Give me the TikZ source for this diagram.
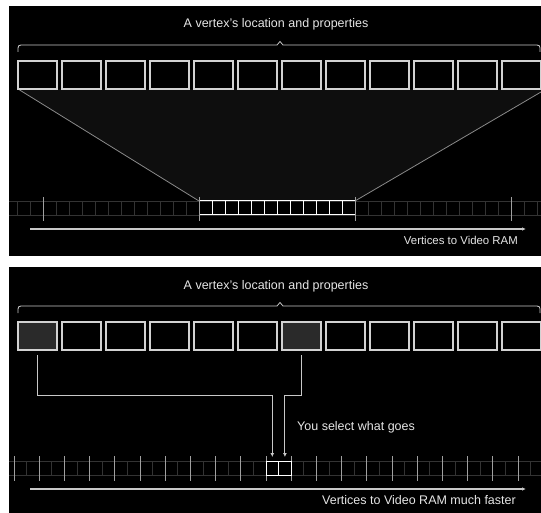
\documentclass[tikz,border=0pt]{standalone}
\usepackage{fontspec}
\setmainfont{Liberation Sans}
\usetikzlibrary{arrows.meta,calc}
\definecolor{trap}{HTML}{0E0E0E}
\definecolor{cellline}{HTML}{333333}
\definecolor{boxline}{HTML}{D2D2D2}
\definecolor{selfill}{HTML}{2A2A2A}
\definecolor{txt}{HTML}{E6E6E6}
\definecolor{tickc}{HTML}{A0A0A0}
\definecolor{edgec}{HTML}{8A8A8A}
\definecolor{axisc}{HTML}{C8C8C8}
\begin{document}
\begin{tikzpicture}[x=1pt,y=-1pt,
  vbox/.style={draw=boxline,line width=1.3pt,minimum width=39pt,minimum height=28pt,inner sep=0pt,outer sep=0pt,anchor=north west},
  selbox/.style={vbox,fill=selfill},
  cellst/.style={draw=cellline,line width=0.8pt},
  hl/.style={draw=white,line width=1pt},
  hlcell/.style={draw=white,line width=1pt,minimum width=12.6pt,minimum height=14pt,inner sep=0pt,outer sep=0pt,anchor=north west},
  tickst/.style={draw=tickc,line width=0.8pt},
  edgest/.style={draw=edgec,line width=0.8pt},
  bracest/.style={draw=axisc,line width=0.8pt},
  axis/.style={draw=axisc,line width=1.3pt,-{Latex[length=4pt,width=3.5pt]}},
  conn/.style={draw=axisc,line width=1pt,-{Latex[length=4pt,width=4pt]},shorten <=5pt,shorten >=4pt},
  lbl/.style={text=txt,font=\fontsize{12.5}{14}\selectfont,inner sep=0pt},
  lbls/.style={text=txt,font=\fontsize{11.4}{13}\selectfont,inner sep=0pt}
]
\useasboundingbox (0,0) rectangle (541,513);
\fill[white] (0,0) rectangle (541,513);

% ---------- top panel ----------
\begin{scope}
\clip (9,6) rectangle (541,256);
\fill[black] (9,6) rectangle (541,256);
\fill[trap] (18,89) -- (541,89) -- (541,92) -- (355,201) -- (199,201) -- cycle;
\draw[edgest] (18,89) -- (199,201);
\draw[edgest] (541,92) -- (355,201);
\node[lbl] (title1) at (276,24) {A vertex's location and properties};
\draw[bracest] (18,52) -- (18,48) .. controls (18,46) and (19,45) .. (21,45) -- (277,45) -- (280,41.5) -- (283,45) -- (537,45) .. controls (539,45) and (540,46) .. (540,48) -- (540,52);
\foreach \k in {1,...,12}
  \node[vbox] (t\k) at ({18+44*(\k-1)},61) {};
% strip
\draw[cellst] (9,201) -- (541,201);
\draw[cellst] (9,215) -- (541,215);
\foreach \i in {-15,...,27}
  \draw[cellst] ({199+13*\i},201) -- ++(0,14);
\draw[hl] (199,201) rectangle (355,215);
\foreach \i in {1,...,11}
  \draw[hl] ({199+13*\i},201) -- ++(0,14);
\foreach \x in {43,199,355,511}
  \draw[tickst] (\x,197) -- (\x,221);
\coordinate (a1s) at (30,229);
\coordinate (a1e) at (526,229);
\draw[axis] (a1s) -- (a1e);
\node[lbls,anchor=east] (v1) at (518,240) {Vertices to Video RAM};
\end{scope}

% ---------- bottom panel ----------
\begin{scope}
\clip (9,267) rectangle (541,513);
\fill[black] (9,267) rectangle (541,513);
\node[lbl] (title2) at (276,286) {A vertex's location and properties};
\draw[bracest] (18,313) -- (18,309) .. controls (18,307) and (19,306) .. (21,306) -- (277,306) -- (280,302.5) -- (283,306) -- (537,306) .. controls (539,306) and (540,307) .. (540,309) -- (540,313);
\foreach \k in {1,...,12}
  \node[vbox] (b\k) at ({18+44*(\k-1)},322) {};
\node[selbox] (b1) at (18,322) {};
\node[selbox] (b7) at (282,322) {};
% strip
\draw[cellst] (9,461) -- (541,461);
\draw[cellst] (9,475) -- (541,475);
\foreach \i in {-21,...,22}
  \draw[cellst] ({266+12.6*\i},461) -- ++(0,14);
\foreach \i in {-10,...,10}
  \draw[tickst] ({266+25.2*\i},456) -- ++(0,25);
\node[hlcell] (s1) at (266,461) {};
\node[hlcell] (s2) at (278.6,461) {};
\coordinate (h) at (0,395);
\draw[conn] (b1.south) |- (h -| s1.north) -- (s1.north);
\draw[conn] (b7.south) |- (h -| s2.north) -- (s2.north);
\node[lbl,anchor=west] (sel) at (297,427) {You select what goes};
\coordinate (a2s) at (30,489);
\coordinate (a2e) at (526,489);
\draw[axis] (a2s) -- (a2e);
\node[lbl,anchor=east] (v2) at (516,500) {Vertices to Video RAM much faster};
\end{scope}
\end{tikzpicture}
\end{document}
